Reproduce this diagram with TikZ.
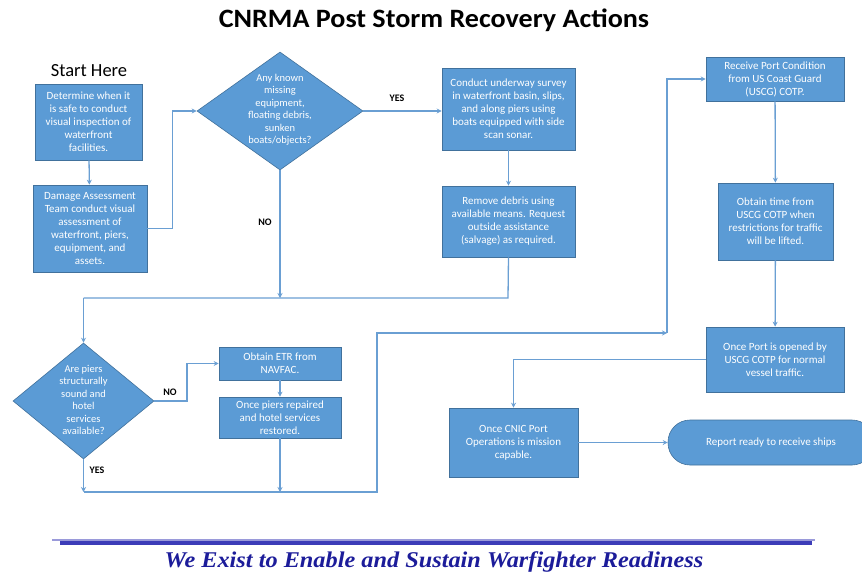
\documentclass[tikz,border=0pt]{standalone}
\usepackage{fontspec}
\setmainfont{Carlito}
\newfontfamily\titlefont{Carlito}[FakeStretch=1.06]
\newfontfamily\footfont{Liberation Serif}[FakeStretch=1.08]
\usetikzlibrary{shapes.geometric,arrows.meta}
\definecolor{boxblue}{HTML}{5B9BD5}
\definecolor{boxedge}{HTML}{41719C}
\definecolor{linkblue}{HTML}{6A9FD3}
\definecolor{footblue}{HTML}{1C1C9A}
\definecolor{barlight}{HTML}{9A9ADA}
\definecolor{bardark}{HTML}{3C3CB8}
\tikzset{
  stepbox/.style={draw=boxedge, line width=0.6pt, fill=boxblue, text=white, align=center,
    font=\fontsize{11}{13}\selectfont, inner sep=1pt},
  dia/.style={diamond, draw=boxedge, line width=0.6pt, fill=boxblue, inner sep=0pt, aspect=1},
  diatext/.style={text=white, align=center, font=\fontsize{10.5}{12.5}\selectfont, inner sep=0pt},
  term/.style={draw=boxedge, line width=0.6pt, fill=boxblue, text=white, rounded corners=22pt,
    font=\fontsize{11}{13}\selectfont, inner sep=0pt},
  link/.style={draw=linkblue, line width=1.3pt, -{Stealth[length=5pt,width=5pt]}},
  plain/.style={draw=linkblue, line width=1.3pt},
  lbl/.style={font=\bfseries\fontsize{10}{11}\selectfont, text=black, inner sep=0pt}
}
\begin{document}
\begin{tikzpicture}[x=1pt,y=-1pt]
\useasboundingbox (0,0) rectangle (862,575);
\clip (0,0) rectangle (862,575);
\fill[white] (0,0) rectangle (862,575);

\node[font=\titlefont\bfseries\fontsize{26.5}{30}\selectfont, anchor=base, inner sep=0pt] (title) at (434,28) {CNRMA Post Storm Recovery Actions};
\node[font=\fontsize{18.5}{20}\selectfont, anchor=base, inner sep=0pt] (start) at (89,77) {Start Here};

% boxes
\node[stepbox, minimum width=107, minimum height=76] (b1) at (88.5,122)
  {Determine when it\\is safe to conduct\\visual inspection of\\waterfront\\facilities.};
\node[stepbox, minimum width=114, minimum height=87] (b2) at (90,228.5)
  {Damage Assessment\\Team conduct visual\\assessment of\\waterfront, piers,\\equipment, and\\assets.};
\node[stepbox, minimum width=133, minimum height=82] (b3) at (508.5,109)
  {Conduct underway survey\\in waterfront basin, slips,\\and along piers using\\boats equipped with side\\scan sonar.};
\node[stepbox, minimum width=133, minimum height=71] (b4) at (508.5,221.5)
  {Remove debris using\\available means. Request\\outside assistance\\(salvage) as required.};
\node[stepbox, minimum width=122, minimum height=33] (b5) at (280,363.5)
  {Obtain ETR from\\NAVFAC.};
\node[stepbox, minimum width=122, minimum height=41] (b6) at (280,417.5)
  {Once piers repaired\\and hotel services\\restored.};
\node[stepbox, minimum width=138, minimum height=44] (b7) at (775,79)
  {Receive Port Condition\\from US Coast Guard\\(USCG) COTP.};
\node[stepbox, minimum width=115, minimum height=77] (b8) at (775.5,221.5)
  {Obtain time from\\USCG COTP when\\restrictions for traffic\\will be lifted.};
\node[stepbox, minimum width=138, minimum height=65] (b9) at (775,359.5)
  {Once Port is opened by\\USCG COTP for normal\\vessel traffic.};
\node[stepbox, minimum width=129, minimum height=69] (b10) at (513.5,442.5)
  {Once CNIC Port\\Operations is mission\\capable.};
\node[term, minimum width=206, minimum height=45] (t1) at (771,442.5)
  {Report ready to receive ships};

% diamonds
\node[dia, minimum width=166, minimum height=118] (d1) at (280,111) {};
\node[diatext] (d1t) at (280,110)
  {Any known\\missing\\equipment,\\floating debris,\\sunken\\boats/objects?};
\node[dia, minimum width=141, minimum height=116] (d2) at (83.5,401) {};
\node[diatext] (d2t) at (83.5,400)
  {Are piers\\structurally\\sound and\\hotel\\services\\available?};

% junction coordinates
\coordinate (j1) at (508,298);
\coordinate (j2) at (d2.north |- j1);
\coordinate (j3) at (187,401);
\coordinate (j4) at (d2.south |- 0,492);
\coordinate (j5) at (377,492);
\coordinate (j6) at (377,333);
\coordinate (j7) at (667,333);

% connectors
\draw[link] (b1) -- (b2);
\draw[link] (b2.east) -- ++(25,0) |- (d1.west);
\draw[link] (d1.east) -- (d1.east -| b3.west);
\node[lbl] (yes1) at (397,98) {YES};
\draw[link] (b3) -- (b4);
\draw[plain] (b4.south) -- (j1) -- (j2);
\draw[link] (j2) -- (d2.north);
\draw[link] (d1.south) -- (d1.south |- j1);
\node[lbl] (no1) at (265,222) {NO};
\draw[link] (d2.east) -- (j3) |- (b5.west);
\node[lbl] (no2) at (170,392) {NO};
\draw[link] (b5) -- (b6);
\draw[link] (b6.south) -- (b6.south |- j5);
\draw[link] (d2.south) -- (j4);
\node[lbl] (yes2) at (97,470) {YES};
\draw[link] (j4) -- (j5) -- (j6) -- (j7);
\draw[link] (j7) |- (b7.west);
\draw[link] (b7) -- (b8);
\draw[link] (b8) -- (b9);
\draw[link] (b9.west) -| (b10.north);
\draw[link] (b10.east) -- (t1.west);

% footer
\draw[barlight, line width=2pt] (52,539.5) -- (815,539.5);
\draw[bardark, line width=4.5pt] (60,543) -- (812,543);
\node[font=\footfont\bfseries\itshape\fontsize{22.5}{26}\selectfont, text=footblue, anchor=base, inner sep=0pt] (motto) at (434,567)
  {We Exist to Enable and Sustain Warfighter Readiness};
\end{tikzpicture}
\end{document}
